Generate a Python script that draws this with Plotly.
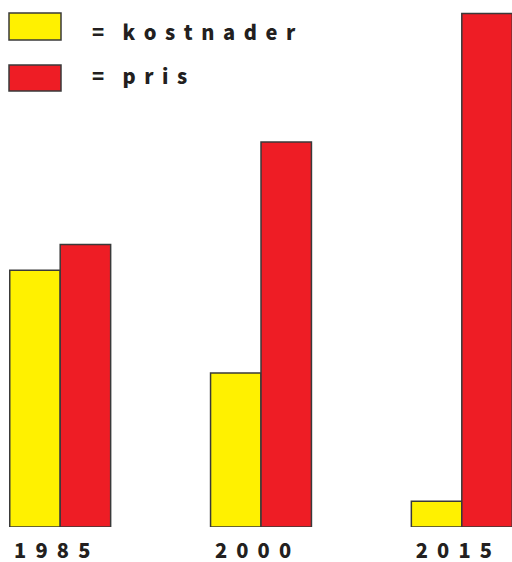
import plotly.graph_objects as go

# Index values per year (1985 kostnader = 100)
years = ["1985", "2000", "2015"]
kostnader = [100, 60, 10]
pris = [110, 150, 200]
series_names = ["kostnader", "pris"]

YELLOW = "#FFF100"
RED = "#EE1D25"
OUTLINE = "#3a3a3a"
FONT = "Noto Sans CJK SC"

W, H = 512, 562
MARGIN_B = 35
PLOT_H = H - MARGIN_B
PX_PER_UNIT = 2.5675
GROUP0_PX = 60.2
GROUP_STEP_PX = 200.8

GAP = "\u00a0\u2009"


def spaced(s, gap=GAP):
    return gap.join(list(s))


fig = go.Figure()
for name, vals, col in [(series_names[0], kostnader, YELLOW), (series_names[1], pris, RED)]:
    fig.add_trace(go.Bar(
        x=years, y=vals, name=name,
        marker=dict(color=col, line=dict(color=OUTLINE, width=1.5)),
        showlegend=False,
    ))

# hand-drawn key in the top-left corner
def py(y_px):
    return (PLOT_H - y_px) / PLOT_H

key_rows = [(series_names[0], YELLOW, 13, 40, 31), (series_names[1], RED, 65, 91, 76)]
for name, col, y0, y1, ty in key_rows:
    fig.add_shape(type="rect", xref="paper", yref="paper",
                  x0=9 / W, x1=61 / W, y0=py(y1), y1=py(y0),
                  fillcolor=col, line=dict(color=OUTLINE, width=1.5))
    fig.add_annotation(xref="paper", yref="paper", x=90 / W, y=py(ty),
                       xanchor="left", yanchor="middle", showarrow=False,
                       text="=\u00a0\u00a0\u00a0\u00a0" + spaced(name),
                       font=dict(family=FONT, size=20, color="#231f20", weight=900))

fig.update_layout(
    width=W, height=H,
    margin=dict(l=0, r=0, t=0, b=MARGIN_B),
    paper_bgcolor="white", plot_bgcolor="white",
    barmode="group", bargap=0.4975, bargroupgap=0,
    xaxis=dict(
        range=[-GROUP0_PX / GROUP_STEP_PX, (W - GROUP0_PX) / GROUP_STEP_PX],
        tickvals=years, ticktext=[spaced(y, "\u00a0\u00a0") for y in years],
        showgrid=False, zeroline=False, showline=False, ticks="",
        tickfont=dict(family=FONT, size=20, color="#231f20", weight=900),
        ticklabelshift=-8, ticklabelstandoff=10, automargin=False,
    ),
    yaxis=dict(range=[0, PLOT_H / PX_PER_UNIT], visible=False, showgrid=False,
               zeroline=False, automargin=False),
)

fig.write_html("out.html")
